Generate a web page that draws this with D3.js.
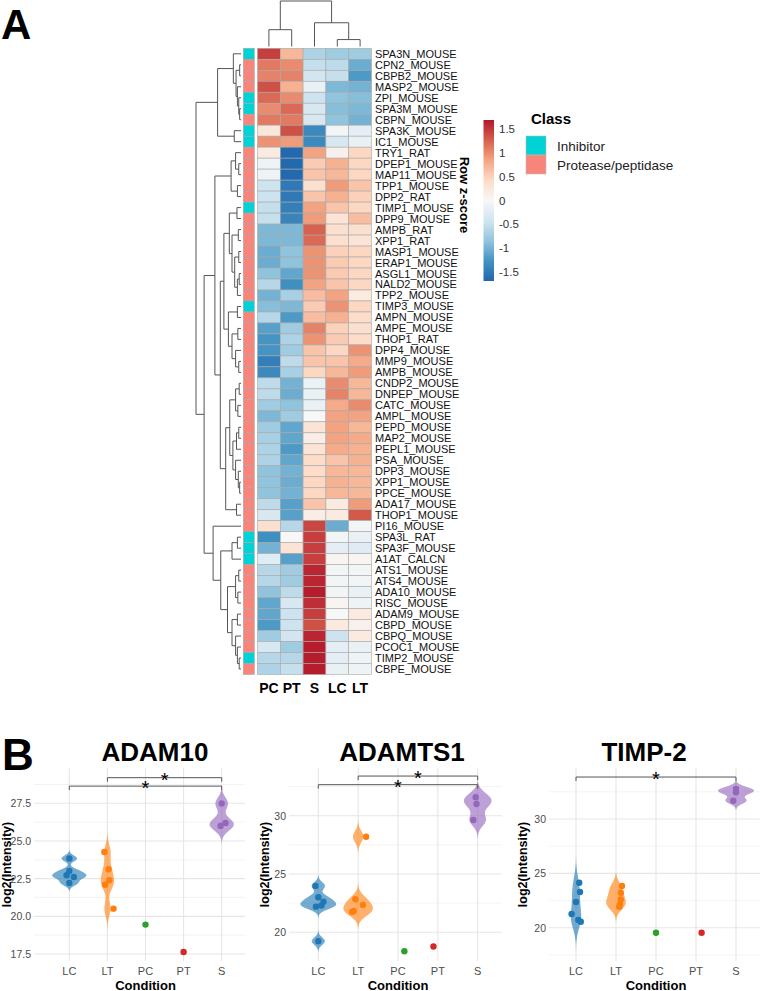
<!DOCTYPE html>
<html lang="en">
<head>
<meta charset="UTF-8">
<title>Protease heatmap and violin plots</title>
<script src="https://d3js.org/d3.v7.min.js"></script>
<style>
  body { margin: 0; background: #fff; }
  svg { display: block; font-family: "Liberation Sans", Arial, sans-serif; }
</style>
</head>
<body>
<svg width="760" height="991"></svg>
<script>
// ---------------- panel A data ----------------
const conditions = ["PC", "PT", "S", "LC", "LT"];

const proteins = [
  "SPA3N_MOUSE", "CPN2_MOUSE", "CBPB2_MOUSE", "MASP2_MOUSE", "ZPI_MOUSE", "SPA3M_MOUSE",
  "CBPN_MOUSE", "SPA3K_MOUSE", "IC1_MOUSE", "TRY1_RAT", "DPEP1_MOUSE", "MAP11_MOUSE",
  "TPP1_MOUSE", "DPP2_RAT", "TIMP1_MOUSE", "DPP9_MOUSE", "AMPB_RAT", "XPP1_RAT",
  "MASP1_MOUSE", "ERAP1_MOUSE", "ASGL1_MOUSE", "NALD2_MOUSE", "TPP2_MOUSE", "TIMP3_MOUSE",
  "AMPN_MOUSE", "AMPE_MOUSE", "THOP1_RAT", "DPP4_MOUSE", "MMP9_MOUSE", "AMPB_MOUSE",
  "CNDP2_MOUSE", "DNPEP_MOUSE", "CATC_MOUSE", "AMPL_MOUSE", "PEPD_MOUSE", "MAP2_MOUSE",
  "PEPL1_MOUSE", "PSA_MOUSE", "DPP3_MOUSE", "XPP1_MOUSE", "PPCE_MOUSE", "ADA17_MOUSE",
  "THOP1_MOUSE", "PI16_MOUSE", "SPA3L_RAT", "SPA3F_MOUSE", "A1AT_CALCN", "ATS1_MOUSE",
  "ATS4_MOUSE", "ADA10_MOUSE", "RISC_MOUSE", "ADAM9_MOUSE", "CBPD_MOUSE", "CBPQ_MOUSE",
  "PCOC1_MOUSE", "TIMP2_MOUSE", "CBPE_MOUSE"
];

// I = Inhibitor, P = Protease/peptidase
const rowClass = [
  "I","P","P","P","I","I","P","I","I","P","P","P","P","P","I","P","P","P","P","P",
  "P","P","P","I","P","P","P","P","P","P","P","P","P","P","P","P","P","P","P","P",
  "P","P","P","P","I","I","I","P","P","P","P","P","P","P","P","I","P"
];
const classNames = { I: "Inhibitor", P: "Protease/peptidase" };

// row z-scores, columns in order PC, PT, S, LC, LT
const zscores = [
  [ 1.45,  0.70, -0.65, -0.75, -0.75],
  [ 1.10,  1.00, -0.50, -0.55, -1.05],
  [ 1.05,  1.05, -0.40, -0.50, -1.20],
  [ 1.35,  0.75, -0.15, -0.95, -1.00],
  [ 1.20,  1.00, -0.45, -0.85, -0.90],
  [ 1.00,  1.20, -0.35, -0.90, -0.95],
  [ 1.10,  1.10, -0.35, -0.85, -1.00],
  [ 0.25,  1.35, -1.35, -0.05, -0.20],
  [ 0.95,  0.90, -1.35, -0.35, -0.15],
  [ 0.20, -1.65,  0.85,  0.10,  0.45],
  [-0.10, -1.65,  0.55,  0.75,  0.45],
  [-0.10, -1.65,  0.60,  0.70,  0.45],
  [-0.45, -1.50,  0.35,  0.90,  0.60],
  [-0.45, -1.50,  0.60,  0.75,  0.50],
  [-0.50, -1.45,  0.85,  0.60,  0.45],
  [-0.50, -1.40,  0.90,  0.30,  0.65],
  [-0.95, -0.95,  1.25,  0.35,  0.35],
  [-0.95, -0.95,  1.20,  0.35,  0.30],
  [-1.05, -0.85,  0.95,  0.50,  0.45],
  [-1.05, -0.85,  0.95,  0.55,  0.45],
  [-0.85, -1.10,  0.95,  0.55,  0.45],
  [-0.60, -1.30,  0.85,  0.60,  0.45],
  [-1.00, -0.70,  0.65,  0.85,  0.20],
  [-0.90, -0.95,  0.55,  0.95,  0.45],
  [-0.60, -1.20,  0.65,  0.75,  0.40],
  [-1.15, -0.75,  1.05,  0.50,  0.35],
  [-1.25, -0.65,  0.95,  0.55,  0.40],
  [-1.25, -0.75,  0.60,  0.45,  0.95],
  [-1.45, -0.55,  0.60,  0.60,  0.80],
  [-1.35, -0.70,  0.45,  0.70,  0.90],
  [-0.55, -1.00, -0.15,  1.00,  0.70],
  [-0.55, -1.05, -0.15,  1.05,  0.70],
  [-0.75, -0.85, -0.15,  0.80,  1.00],
  [-0.95, -0.75,  0.00,  0.85,  0.85],
  [-0.75, -1.10,  0.30,  0.85,  0.70],
  [-0.70, -1.10,  0.15,  0.85,  0.80],
  [-0.65, -1.20,  0.30,  0.80,  0.75],
  [-0.65, -1.10,  0.40,  0.60,  0.75],
  [-0.85, -1.00,  0.40,  0.70,  0.70],
  [-0.85, -1.05,  0.45,  0.75,  0.70],
  [-0.85, -1.00,  0.45,  0.70,  0.70],
  [-0.55, -1.15,  0.60,  0.20,  0.90],
  [-0.35, -1.15,  0.15,  0.20,  1.30],
  [ 0.35, -0.60,  1.40, -1.05, -0.05],
  [-1.30,  0.00,  1.45, -0.05, -0.15],
  [-1.00,  0.30,  1.45, -0.20, -0.25],
  [-0.25, -1.15,  1.45,  0.05,  0.05],
  [-0.60, -0.75,  1.60, -0.05, -0.05],
  [-0.60, -0.75,  1.60, -0.05, -0.05],
  [-0.85, -0.55,  1.65, -0.05, -0.15],
  [-1.10, -0.35,  1.55,  0.05, -0.10],
  [-1.10, -0.45,  1.45,  0.00,  0.20],
  [-1.20, -0.45,  1.35,  0.20,  0.10],
  [-0.75, -0.40,  1.60, -0.45,  0.20],
  [-0.35, -0.75,  1.65, -0.20, -0.15],
  [-0.60, -0.60,  1.65, -0.20, -0.10],
  [-0.65, -0.50,  1.65, -0.15, -0.10]
];

// dendrograms: [height, left, right], leaves are row / column indices
const rowTree = [1.0,
  [0.52,
    [0.17, 0, [0.11, [0.03, 1, 2], [0.08, 3, [0.05, 4, [0.03, 5, 6]]]]],
    [0.15, 7, 8]],
  [0.82,
    [0.58,
      [0.22, [0.12, 9, [0.05, 10, 11]], [0.08, 12, 13]],
      [0.46,
        [0.38,
          [0.26, [0.09, 14, 15], [0.2, [0.06, 16, 17], [0.14, [0.05, 18, 19], [0.08, [0.04, 20, 21], 22]]]],
          [0.28, [0.08, 23, 24], [0.2, [0.07, 25, 26], [0.12, 27, [0.05, 28, 29]]]]],
        [0.34,
          [0.25, [0.12, [0.04, 30, 31], [0.07, 32, 33]],
                 [0.18, [0.1, [0.05, 34, 35], 36], [0.12, 37, [0.06, 38, [0.03, 39, 40]]]]],
          [0.1, 41, 42]]]],
    [0.62, 43,
      [0.45, [0.2, [0.08, 44, 45], 46],
             [0.3, [0.12, [0.05, 47, 48], [0.07, 49, 50]],
                   [0.2, [0.08, 51, 52], [0.12, 53, [0.08, 54, [0.04, 55, 56]]]]]]]]
];
const colTree = [9.2, [3.4, 0, 1], [4.8, 2, [1.4, 3, 4]]];

const legendTicks = [1.5, 1, 0.5, 0, -0.5, -1, -1.5];
const rdbu9 = ["#B2182B", "#D6604D", "#F4A582", "#FDDBC7", "#F7F7F7",
               "#D1E5F0", "#92C5DE", "#4393C3", "#2166AC"];

// ---------------- panel B data ----------------
const groups = ["LC", "LT", "PC", "PT", "S"];
const groupColors = ["#1F77B4", "#FF7F0E", "#2CA02C", "#D62728", "#9467BD"];

// [condition, log2 intensity, horizontal jitter in category widths]
const adam10Points = [
  ["LC", 23.84, 0], ["LC", 23.01, 0], ["LC", 22.73, -0.07], ["LC", 22.61, 0.12], ["LC", 22.21, 0],
  ["LT", 24.27, -0.08], ["LT", 23.12, 0.03], ["LT", 22.39, 0.05], ["LT", 22.10, -0.06], ["LT", 20.51, 0.16],
  ["PC", 19.45, 0], ["PT", 17.63, 0],
  ["S", 27.49, 0], ["S", 26.20, 0.10], ["S", 26.00, -0.03]
];
const adamts1Points = [
  ["LC", 23.98, -0.07], ["LC", 23.00, 0], ["LC", 22.63, 0.13], ["LC", 22.30, 0.08], ["LC", 22.20, -0.06], ["LC", 19.24, 0],
  ["LT", 28.20, 0.20], ["LT", 22.83, -0.07], ["LT", 22.35, 0.12], ["LT", 21.83, -0.11], ["LT", 21.75, -0.15],
  ["PC", 18.38, 0.16], ["PT", 18.78, -0.11],
  ["S", 31.58, -0.05], ["S", 31.00, -0.03], ["S", 29.63, -0.11]
];
const timp2Points = [
  ["LC", 24.14, 0.08], ["LC", 23.28, 0.10], ["LC", 22.36, 0], ["LC", 21.26, -0.11], ["LC", 20.71, 0.06], ["LC", 20.55, 0.12],
  ["LT", 23.84, 0.15], ["LT", 23.22, 0.12], ["LT", 22.61, 0.12], ["LT", 22.18, 0.10], ["LT", 21.93, 0.08],
  ["PC", 19.54, 0], ["PT", 19.54, 0.14],
  ["S", 32.76, 0], ["S", 32.46, 0], ["S", 31.68, -0.07]
];

// significance brackets [from, to, y]
const adam10Sig = [["LT", "S", 29.2], ["LC", "S", 28.64]];
const adamts1Sig = [["LT", "S", 33.4], ["LC", "S", 32.66]];
const timp2Sig = [["LC", "S", 33.86]];

const adam10Ticks = [17.5, 20, 22.5, 25, 27.5];
const adamts1Ticks = [20, 25, 30];
const timp2Ticks = [20, 25, 30];

// ---------------- drawing ----------------
const svg = d3.select("svg");

// panel letters
svg.append("text").attr("x", 1).attr("y", 39).attr("font-size", 42).attr("font-weight", "bold").text("A");
svg.append("text").attr("x", 2).attr("y", 770).attr("font-size", 44).attr("font-weight", "bold").text("B");

// heatmap scales
const x = d3.scaleBand().domain(conditions).range([257.5, 371.5]);
const y = d3.scaleBand().domain(d3.range(proteins.length)).range([48.3, 674.5]);
const color = d3.scaleLinear()
  .domain(d3.range(9).map(i => 1.68 - i * 0.42))
  .range(rdbu9)
  .clamp(true);

const cells = [];
zscores.forEach((row, i) => row.forEach((z, j) => cells.push({ i, c: conditions[j], z })));

const gA = svg.append("g");
gA.selectAll("rect.cell")
  .data(cells)
  .join("rect")
  .attr("class", "cell")
  .attr("x", d => x(d.c))
  .attr("y", d => y(d.i))
  .attr("width", x.bandwidth())
  .attr("height", y.bandwidth())
  .attr("fill", d => color(d.z))
  .attr("stroke", "#a8a8a8")
  .attr("stroke-width", 0.6);

// class annotation column
const classColor = d3.scaleOrdinal().domain(["I", "P"]).range(["#00D2D6", "#F8857C"]);
gA.selectAll("rect.ann")
  .data(rowClass)
  .join("rect")
  .attr("class", "ann")
  .attr("x", 243.3)
  .attr("y", (d, i) => y(i))
  .attr("width", 11)
  .attr("height", y.bandwidth())
  .attr("fill", d => classColor(d))
  .attr("stroke", "#a8a8a8")
  .attr("stroke-width", 0.6);

// row labels
gA.selectAll("text.row")
  .data(proteins)
  .join("text")
  .attr("class", "row")
  .attr("x", 375)
  .attr("y", (d, i) => y(i) + y.bandwidth() / 2)
  .attr("dominant-baseline", "central")
  .attr("font-size", 11)
  .attr("fill", "#111")
  .text(d => d);

// column labels
gA.selectAll("text.col")
  .data(conditions)
  .join("text")
  .attr("class", "col")
  .attr("x", d => x(d) + x.bandwidth() / 2)
  .attr("y", 693)
  .attr("text-anchor", "middle")
  .attr("font-size", 14)
  .attr("font-weight", "bold")
  .text(d => d);

// dendrograms
function toNode(n) {
  return Array.isArray(n) ? { h: n[0], children: [toNode(n[1]), toNode(n[2])] } : { h: 0, leaf: n };
}

const rowRoot = d3.hierarchy(toNode(rowTree));
rowRoot.eachAfter(n => {
  n.pos = n.children ? d3.mean(n.children, c => c.pos) : y(n.data.leaf) + y.bandwidth() / 2;
});
const rh = d3.scaleLinear().domain([0, 1]).range([241, 196]);
gA.append("g").selectAll("path")
  .data(rowRoot.descendants().filter(n => n.children))
  .join("path")
  .attr("fill", "none")
  .attr("stroke", "#555")
  .attr("stroke-width", 1)
  .attr("d", n => {
    const [a, b] = n.children;
    return `M${rh(a.data.h)},${a.pos}H${rh(n.data.h)}V${b.pos}H${rh(b.data.h)}`;
  });

const colRoot = d3.hierarchy(toNode(colTree));
colRoot.eachAfter(n => {
  n.pos = n.children ? d3.mean(n.children, c => c.pos) : x(conditions[n.data.leaf]) + x.bandwidth() / 2;
});
const ch = d3.scaleLinear().domain([0, 9.2]).range([46.5, 1]);
gA.append("g").selectAll("path")
  .data(colRoot.descendants().filter(n => n.children))
  .join("path")
  .attr("fill", "none")
  .attr("stroke", "#555")
  .attr("stroke-width", 1)
  .attr("d", n => {
    const [a, b] = n.children;
    return `M${a.pos},${ch(a.data.h)}V${ch(n.data.h)}H${b.pos}V${ch(b.data.h)}`;
  });

// colour legend
const ly = d3.scaleLinear().domain([-1.68, 1.68]).range([281, 120]);
const grad = svg.append("defs").append("linearGradient")
  .attr("id", "zgrad").attr("x1", 0).attr("y1", 1).attr("x2", 0).attr("y2", 0);
grad.selectAll("stop")
  .data(color.domain().slice().reverse())
  .join("stop")
  .attr("offset", d => (d + 1.68) / 3.36)
  .attr("stop-color", d => color(d));
svg.append("rect")
  .attr("x", 483.5).attr("y", 120).attr("width", 10.5).attr("height", 161)
  .attr("fill", "url(#zgrad)");
svg.append("g").selectAll("text")
  .data(legendTicks)
  .join("text")
  .attr("x", 499)
  .attr("y", d => ly(d))
  .attr("dominant-baseline", "central")
  .attr("font-size", 11.5)
  .attr("fill", "#333")
  .text(d => d);
svg.append("text")
  .attr("transform", "translate(464,195) rotate(90)")
  .attr("text-anchor", "middle")
  .attr("dominant-baseline", "central")
  .attr("font-size", 13)
  .attr("font-weight", "bold")
  .text("Row z-score");

// class legend
svg.append("text").attr("x", 531).attr("y", 124).attr("font-size", 15).attr("font-weight", "bold").text("Class");
const lg = svg.append("g").selectAll("g")
  .data(["I", "P"])
  .join("g")
  .attr("transform", (d, i) => `translate(526,${136 + i * 19})`);
lg.append("rect").attr("width", 20).attr("height", 19).attr("fill", d => classColor(d))
  .attr("stroke", "#bbb").attr("stroke-width", 0.6);
lg.append("text").attr("x", 31).attr("y", 10).attr("dominant-baseline", "central")
  .attr("font-size", 13.5).attr("fill", "#222").text(d => classNames[d]);

// ---------------- violin panels ----------------
function kde(values) {
  const v = values.slice().sort(d3.ascending);
  const sd = d3.deviation(v);
  const iqr = d3.quantile(v, 0.75) - d3.quantile(v, 0.25);
  let lo = Math.min(sd, iqr / 1.34);
  if (!(lo > 0)) lo = sd;
  const bw = 0.9 * lo * Math.pow(v.length, -0.2);
  const a = v[0] - 3 * bw, b = v[v.length - 1] + 3 * bw;
  return d3.range(512).map(k => {
    const t = a + (b - a) * k / 511;
    const d = d3.mean(v, vi => Math.exp(-0.5 * ((t - vi) / bw) ** 2)) / (bw * Math.sqrt(2 * Math.PI));
    return { t, d };
  });
}

const panels = [
  { title: "ADAM10", pts: adam10Points, sig: adam10Sig, ticks: adam10Ticks, fmt: d3.format(".1f"),
    xRange: [69.3, 221.7], left: 34, right: 245, yDomain: [17.5, 27.5], yRange: [954, 803.3],
    titleX: 155, yTitleX: 7 },
  { title: "ADAMTS1", pts: adamts1Points, sig: adamts1Sig, ticks: adamts1Ticks, fmt: d3.format("d"),
    xRange: [318.3, 477.7], left: 289, right: 502, yDomain: [20, 30], yRange: [932.3, 815.7],
    titleX: 402, yTitleX: 265 },
  { title: "TIMP-2", pts: timp2Points, sig: timp2Sig, ticks: timp2Ticks, fmt: d3.format("d"),
    xRange: [576, 736], left: 549, right: 760, yDomain: [20, 30], yRange: [927.7, 819],
    titleX: 644, yTitleX: 523 }
];
const panelTop = 768, panelBottom = 961;
const gcol = d3.scaleOrdinal().domain(groups).range(groupColors);

panels.forEach(p => {
  const g = svg.append("g");
  const px = d3.scalePoint().domain(groups).range(p.xRange);
  const step = px.step();
  const py = d3.scaleLinear().domain(p.yDomain).range(p.yRange);
  const vTop = py.invert(panelTop), vBot = py.invert(panelBottom);
  const half = (p.ticks[1] - p.ticks[0]) / 2;
  const minor = d3.range(p.ticks[0] - half, vTop, 2 * half).filter(v => v >= vBot);

  g.selectAll("line.minor").data(minor).join("line")
    .attr("x1", p.left).attr("x2", p.right)
    .attr("y1", d => py(d)).attr("y2", d => py(d))
    .attr("stroke", "#F0F0F0").attr("stroke-width", 0.8);
  g.selectAll("line.major").data(p.ticks).join("line")
    .attr("x1", p.left).attr("x2", p.right)
    .attr("y1", d => py(d)).attr("y2", d => py(d))
    .attr("stroke", "#E6E6E6").attr("stroke-width", 1.1);
  g.selectAll("line.vert").data(groups).join("line")
    .attr("x1", d => px(d)).attr("x2", d => px(d))
    .attr("y1", panelTop).attr("y2", panelBottom)
    .attr("stroke", "#E6E6E6").attr("stroke-width", 1.1);

  // violins (groups with at least two values)
  const byGroup = d3.group(p.pts, d => d[0]);
  const dens = groups
    .filter(k => byGroup.has(k) && byGroup.get(k).length > 1)
    .map(k => ({ k, curve: kde(byGroup.get(k).map(d => d[1])) }));
  const maxD = d3.max(dens, d => d3.max(d.curve, c => c.d));
  const wScale = d3.scaleLinear().domain([0, maxD]).range([0, 0.45 * step]);
  const area = d3.area()
    .y(c => py(c.t));
  g.selectAll("path.violin").data(dens).join("path")
    .attr("fill", d => gcol(d.k))
    .attr("fill-opacity", 0.62)
    .attr("d", d => area
      .x0(c => px(d.k) - wScale(c.d))
      .x1(c => px(d.k) + wScale(c.d))(d.curve));

  // points
  g.selectAll("circle").data(p.pts).join("circle")
    .attr("cx", d => px(d[0]) + d[2] * step)
    .attr("cy", d => py(d[1]))
    .attr("r", 3.2)
    .attr("fill", d => gcol(d[0]));

  // significance brackets
  const tip = 4;
  const sg = g.selectAll("g.sig").data(p.sig).join("g");
  sg.append("path")
    .attr("fill", "none").attr("stroke", "#555").attr("stroke-width", 1)
    .attr("d", d => `M${px(d[0])},${py(d[2]) + tip}V${py(d[2])}H${px(d[1])}V${py(d[2]) + tip}`);
  sg.append("text")
    .attr("x", d => (px(d[0]) + px(d[1])) / 2)
    .attr("y", d => py(d[2]) + 9)
    .attr("text-anchor", "middle")
    .attr("font-size", 20)
    .text("*");

  // axes text
  g.selectAll("text.ytick").data(p.ticks).join("text")
    .attr("x", p.left - 3)
    .attr("y", d => py(d))
    .attr("text-anchor", "end")
    .attr("dominant-baseline", "central")
    .attr("font-size", 10.5)
    .attr("fill", "#4D4D4D")
    .text(d => p.fmt(d));
  g.selectAll("text.xtick").data(groups).join("text")
    .attr("x", d => px(d))
    .attr("y", 971)
    .attr("text-anchor", "middle")
    .attr("dominant-baseline", "central")
    .attr("font-size", 11)
    .attr("fill", "#4D4D4D")
    .text(d => d);
  g.append("text")
    .attr("x", (p.xRange[0] + p.xRange[1]) / 2)
    .attr("y", 985)
    .attr("text-anchor", "middle")
    .attr("dominant-baseline", "central")
    .attr("font-size", 13)
    .attr("font-weight", "bold")
    .text("Condition");
  g.append("text")
    .attr("transform", `translate(${p.yTitleX},${(panelTop + panelBottom) / 2}) rotate(-90)`)
    .attr("text-anchor", "middle")
    .attr("dominant-baseline", "central")
    .attr("font-size", 12.5)
    .attr("font-weight", "bold")
    .text("log2(Intensity)");
  g.append("text")
    .attr("x", p.titleX)
    .attr("y", 752)
    .attr("text-anchor", "middle")
    .attr("dominant-baseline", "central")
    .attr("font-size", 26)
    .attr("font-weight", "bold")
    .text(p.title);
});
</script>
</body>
</html>
